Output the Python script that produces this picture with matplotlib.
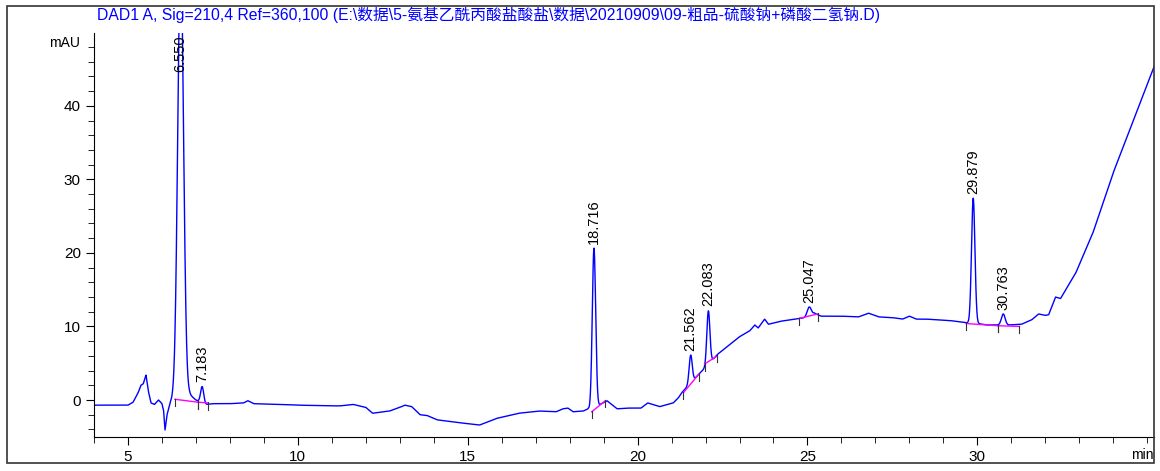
import numpy as np
import matplotlib
matplotlib.use("Agg")
import matplotlib.pyplot as plt
from matplotlib.patches import Rectangle

plt.rcParams['font.family'] = ['Liberation Sans', 'Noto Sans CJK SC', 'DejaVu Sans']

title = "DAD1 A, Sig=210,4 Ref=360,100 (E:\\数据\\5-氨基乙酰丙酸盐酸盐\\数据\\20210909\\09-粗品-硫酸钠+磷酸二氢钠.D)"

# baseline trace (min, mAU)
base_t = [4.0, 5.0, 5.15, 5.3, 5.38, 5.45, 5.53, 5.6, 5.68, 5.78, 5.9, 6.0, 6.05, 6.09, 6.15, 6.25, 6.35, 6.5, 6.8, 7.0, 7.3,
          7.5, 8.0, 8.4, 8.53, 8.7, 9.5, 10.0, 11.0, 11.24, 11.63, 12.0, 12.2, 12.7, 13.0, 13.15, 13.35, 13.6, 13.8,
          14.1, 14.6, 15.15, 15.35, 15.85, 16.5, 17.1, 17.6, 17.8, 17.95, 18.1, 18.4, 18.55, 18.65, 18.9, 19.1, 19.4,
          19.7, 20.1, 20.3, 20.65, 21.05, 21.2, 21.3, 21.5, 21.82, 22.1, 22.35, 22.7, 23.0, 23.3, 23.45, 23.55,
          23.74, 23.85, 24.2, 24.76, 25.0, 25.2, 25.4, 26.0, 26.5, 26.8, 27.1, 27.5, 27.8, 28.0, 28.2, 28.5, 28.8,
          29.2, 29.68, 30.0, 30.3, 30.65, 30.9, 31.3, 31.6, 31.7, 31.8, 32.0, 32.1, 32.3, 32.45, 32.9, 33.4, 34.0,
          34.6, 35.2]
base_y = [-0.7, -0.7, -0.3, 1.0, 2.0, 2.2, 3.4, 1.2, -0.4, -0.6, 0.0, -0.5, -1.5, -4.1, -2.0, -0.3, 0.3, 0.3, 0.8, 0.0, -0.6,
          -0.5, -0.5, -0.4, -0.1, -0.5, -0.6, -0.7, -0.8, -0.8, -0.6, -1.0, -1.8, -1.5, -1.0, -0.7, -0.9, -2.0, -2.1,
          -2.7, -3.0, -3.3, -3.4, -2.5, -1.8, -1.5, -1.6, -1.2, -1.1, -1.6, -1.5, -1.2, -1.6, -0.6, -0.1, -1.2,
          -1.1, -1.1, -0.4, -0.9, -0.4, 0.3, 1.0, 2.0, 3.6, 4.9, 6.2, 7.5, 8.6, 9.4, 10.2, 9.8,
          11.0, 10.3, 10.7, 11.1, 11.2, 11.8, 11.4, 11.4, 11.3, 11.8, 11.3, 11.2, 11.0, 11.4, 11.0, 11.0, 10.9,
          10.8, 10.5, 10.4, 10.2, 10.2, 10.2, 10.3, 10.9, 11.3, 11.7, 11.5, 11.6, 14.0, 13.8, 17.3, 22.7, 30.9,
          38.1, 45.3]

# integrated peaks
peak_rt = [6.550, 7.183, 18.716, 21.562, 22.083, 25.047, 29.879, 30.763]
peak_h = [60.0, 2.2, 22.0, 3.8, 7.3, 1.3, 17.0, 1.5]
peak_sd = [0.085, 0.045, 0.05, 0.045, 0.045, 0.06, 0.05, 0.055]

# integration baselines (start t, start y, end t, end y)
int_t0 = [6.38, 7.06, 18.65, 21.35, 21.97, 24.76, 29.67, 30.6]
int_y0 = [0.1, -0.3, -1.6, 1.0, 4.9, 11.1, 10.4, 10.1]
int_t1 = [7.06, 7.35, 19.05, 21.8, 22.35, 25.3, 30.6, 31.24]
int_y1 = [-0.3, -0.4, -0.1, 3.5, 6.0, 11.7, 10.1, 10.0]

t = np.linspace(4.0, 35.2, 6000)
y = np.interp(t, base_t, base_y)
for rt, h, sd in zip(peak_rt, peak_h, peak_sd):
    y = y + h * np.exp(-0.5 * ((t - rt) / sd) ** 2)

fig = plt.figure(figsize=(11.6, 4.71), dpi=100)
ax = fig.add_axes([94/1160, 1-437/471, (1154-94)/1160, (437-33)/471])
ax.plot(t, y, color='#0000ff', lw=1.0)
for a, b, c, d in zip(int_t0, int_y0, int_t1, int_y1):
    ax.plot([a, c], [b, d], color='#ff00ff', lw=1.0)
    for tt, yy in ((a, b), (c, d)):
        ax.plot([tt, tt], [yy - 0.9, yy + 0.1], color='#333333', lw=0.8)

ax.set_xlim(4.0, 35.2)
ax.set_ylim(-5.03, 49.9)
for rt, h in zip(peak_rt, peak_h):
    apex = np.interp(rt, t, y)
    ypos = apex + 0.6
    va = 'bottom'
    if apex > 45:
        ypos, va = 49.6, 'top'
    ax.text(rt, ypos, f"{rt:.3f}", rotation=90, ha='center', va=va, fontsize=10.5)

ax.set_xticks([5, 10, 15, 20, 25, 30])
ax.set_xticks(np.arange(4, 36, 1), minor=True)
ax.set_yticks([0, 10, 20, 30, 40])
ax.set_yticks(np.arange(-4, 50, 2), minor=True)
ax.tick_params(axis='both', which='major', labelsize=11, length=6)
ax.tick_params(axis='both', which='minor', length=4)
for s in ('top', 'right'):
    ax.spines[s].set_visible(False)

fig.text(80/1160, 1-43/471, "mAU", ha='right', va='center', fontsize=10)
fig.text(1154/1160, 1-455/471, "min", ha='right', va='center', fontsize=10)
fig.text(97/1160, 1-15/471, title, color='#0000ff', ha='left', va='center', fontsize=11.3)
fig.patches.append(Rectangle((7/1160, 1-463/471), (1154-7)/1160, (463-6)/471, transform=fig.transFigure,
                             fill=False, edgecolor='#333333', lw=1.2))
fig.savefig("out.png", dpi=100)
